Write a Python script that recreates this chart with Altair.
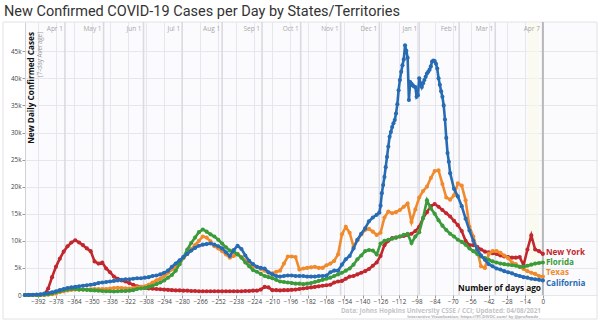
import altair as alt
import pandas as pd

title_text = "New Confirmed COVID-19 Cases per Day by States/Territories"

# common day grid (days ago), values in thousands of cases (7-day average)
grid_days = list(range(-402, 1, 3))

ny_vals = [
    0, 0, 0, 0, 0.02, 0.1, 1.2, 3.3, 5.2, 6.7,
    8.0, 9.0, 9.7, 10.1, 9.7, 9.2, 8.6, 8.1, 6.2, 5.8,
    6.0, 4.9, 4.2, 3.4, 3.0, 2.7, 2.5, 2.2, 1.9, 1.6,
    1.5, 1.3, 1.2, 1.15, 1.1, 1.05, 1.0, 0.95, 0.9, 0.85,
    0.85, 0.8, 0.8, 0.75, 0.75, 0.7, 0.7, 0.7, 0.7, 0.7,
    0.7, 0.7, 0.7, 0.7, 0.7, 0.7, 0.7, 0.75, 0.75, 0.8,
    0.8, 1.0, 1.5, 1.4, 0.9, 0.9, 0.85, 0.9, 0.9, 0.95,
    1.0, 1.1, 1.2, 1.3, 1.4, 1.5, 1.6, 1.7, 1.8, 1.9,
    2.3, 2.5, 2.6, 3.0, 3.4, 3.5, 3.8, 4.1, 4.4, 4.8,
    5.4, 6.0, 7.2, 9.2, 10.0, 10.5, 10.6, 10.8, 10.9, 11.1,
    11.3, 11.8, 12.6, 14.2, 15.3, 16.4, 16.8, 16.3, 15.7, 15.1,
    14.5, 13.7, 12.9, 11.8, 10.0, 9.2, 9.2, 8.9, 8.4, 8.0,
    7.9, 7.7, 7.6, 7.3, 7.1, 7.0, 6.9, 6.9, 7.0, 5.5,
    8.4, 11.0, 8.4, 8.1, 7.6,
]

tx_vals = [
    0, 0, 0, 0, 0, 0.02, 0.05, 0.15, 0.3, 0.5,
    0.7, 0.85, 0.95, 1.0, 1.0, 1.0, 1.0, 1.05, 1.1, 1.1,
    1.1, 1.1, 1.2, 1.3, 1.35, 1.3, 1.25, 1.2, 1.3, 1.4,
    1.5, 1.6, 1.9, 2.3, 2.7, 3.0, 3.5, 4.1, 4.7, 5.3,
    6.0, 6.8, 7.6, 8.5, 9.2, 10.0, 10.8, 10.6, 9.9, 9.0,
    8.6, 8.1, 7.5, 6.9, 7.2, 7.6, 7.0, 6.4, 5.6, 5.3,
    5.2, 4.8, 4.5, 4.1, 4.0, 4.3, 4.5, 5.8, 7.1, 7.1,
    7.0, 4.7, 4.9, 5.0, 5.1, 5.2, 5.0, 5.0, 5.5, 5.8,
    6.3, 7.5, 11.2, 12.6, 11.5, 8.9, 10.1, 11.2, 12.0, 12.2,
    11.7, 11.1, 11.5, 14.3, 15.4, 15.1, 15.3, 15.7, 16.3, 16.9,
    13.5, 15.8, 18.0, 19.2, 20.0, 21.6, 22.9, 23.0, 20.5, 18.0,
    17.6, 18.4, 20.6, 20.2, 17.5, 12.6, 10.8, 8.2, 5.3, 5.0,
    7.6, 8.1, 8.1, 7.8, 7.3, 6.8, 6.0, 5.7, 5.2, 4.8,
    4.4, 4.1, 3.9, 3.5, 3.4,
]

fl_vals = [
    0, 0, 0, 0, 0.02, 0.05, 0.15, 0.3, 0.5, 0.7,
    0.9, 1.0, 1.1, 1.1, 1.0, 1.0, 0.95, 0.9, 0.85, 0.8,
    0.75, 0.7, 0.7, 0.65, 0.7, 0.75, 0.75, 0.8, 0.9, 1.1,
    1.2, 1.3, 1.5, 1.7, 2.0, 2.3, 2.7, 3.2, 3.7, 4.5,
    5.7, 7.0, 8.4, 9.6, 10.6, 11.6, 12.1, 11.7, 11.2, 10.8,
    10.2, 9.5, 8.8, 8.2, 8.0, 7.5, 6.9, 6.0, 5.3, 4.6,
    4.3, 3.9, 3.5, 3.3, 3.1, 2.8, 2.5, 2.4, 2.3, 2.2,
    2.1, 2.1, 2.0, 2.1, 2.2, 2.4, 2.6, 2.8, 3.0, 3.2,
    3.5, 3.8, 4.1, 4.5, 4.9, 5.6, 6.6, 7.3, 8.1, 8.3,
    8.2, 7.5, 9.5, 10.0, 10.2, 10.4, 10.6, 10.8, 11.1, 11.3,
    9.6, 10.8, 11.6, 14.2, 17.5, 16.0, 15.0, 13.8, 12.8, 12.0,
    11.3, 10.8, 10.2, 9.8, 9.3, 8.6, 8.1, 7.6, 7.1, 6.8,
    6.5, 6.2, 6.0, 5.8, 5.7, 5.6, 5.5, 5.4, 5.2, 5.2,
    5.4, 5.6, 5.8, 5.9, 6.0,
]

# California: grid days up to -129, daily around the winter peak, grid again from -69
ca_days = ([d for d in grid_days if d <= -129] + list(range(-127, -71))
           + [d for d in grid_days if d >= -69])
ca_vals = [
    0, 0.02, 0.05, 0.1, 0.15, 0.25, 0.35, 0.5, 0.7, 0.9,
    1.1, 1.3, 1.4, 1.5, 1.6, 1.7, 1.8, 1.9, 2.0, 2.2,
    2.3, 2.4, 2.5, 2.6, 2.7, 2.8, 2.9, 2.9, 3.0, 3.1,
    3.1, 3.2, 3.3, 3.5, 3.6, 3.8, 4.1, 4.5, 5.2, 5.8,
    6.4, 7.0, 7.6, 8.2, 8.7, 9.1, 9.3, 9.4, 9.5, 9.3,
    9.0, 8.6, 7.9, 7.2, 8.3, 9.1, 8.5, 7.3, 6.3, 5.7,
    5.2, 5.0, 4.9, 4.2, 3.8, 3.5, 3.4, 3.5, 3.6, 3.6,
    3.5, 3.5, 3.5, 3.4, 3.4, 3.4, 3.5, 3.5, 3.6, 4.2,
    4.5, 4.5, 5.6, 6.6, 7.2, 8.6, 10.2, 11.3, 12.3, 13.6,
    14.3, 14.8,
    15.2, 16.5, 18.8, 20.3, 21.8, 23.6, 25.5, 27.4, 29.2, 30.1,
    31.0, 31.7, 32.3, 33.5, 35.2, 37.8, 39.7, 41.2, 42.4, 43.5,
    46.1, 45.1, 43.8, 36.0, 39.3, 39.0, 38.7, 38.5, 38.4, 36.6,
    36.9, 40.0, 39.1, 38.4, 39.1, 39.7, 40.3, 40.9, 41.2, 41.6,
    42.2, 43.1, 43.3, 43.2, 42.7, 41.8, 40.0, 38.8, 37.6, 36.6,
    35.0, 32.4, 29.0, 26.2, 24.6, 22.5,
    19.6, 18.2, 16.4, 14.1, 11.9, 10.0, 8.4, 7.3, 6.5, 5.7,
    5.3, 4.9, 4.7, 4.4, 4.2, 4.0, 3.7, 3.5, 3.3, 3.2,
    3.0, 2.9, 2.8, 2.7,
]

assert len(ny_vals) == len(grid_days)
assert len(tx_vals) == len(grid_days)
assert len(fl_vals) == len(grid_days)
assert len(ca_vals) == len(ca_days)

state_names = ["New York", "Texas", "Florida", "California"]
state_colors = ["#c1272d", "#f08a2c", "#3b9b3a", "#276bb3"]
state_days = [grid_days, grid_days, grid_days, ca_days]
state_vals = [ny_vals, tx_vals, fl_vals, ca_vals]
label_dy = [-1, -3.5, 0.5, 3.8]

x_ticks = list(range(-392, 1, 14))
y_ticks = list(range(0, 46, 5))
month_days = [-371, -341, -310, -280, -249, -218, -188, -157, -127, -96, -65, -37]
month_labels = ["Apr 1", "May 1", "Jun 1", "Jul 1", "Aug 1", "Sep 1", "Oct 1",
                "Nov 1", "Dec 1", "Jan 1", "Feb 1", "Mar 1"]
today_day = 0
today_label = "Apr 7"

FONT = "Open Sans"
xs = alt.Scale(domain=[-402, 42], nice=False, zero=False)
ys = alt.Scale(domain=[0, 50.4], nice=False, zero=True)

xaxis = alt.Axis(values=x_ticks, title=None, grid=True, gridColor="#e6e6ee", gridWidth=1,
                 domain=False, ticks=True, tickSize=3, tickColor="#999",
                 labelFontSize=6.3, labelColor="#444", labelFont=FONT, labelPadding=0.5,
                 labelFlush=False)
yaxis = alt.Axis(values=y_ticks, title=None, grid=True, gridColor="#e6e6ee", gridWidth=1,
                 domain=True, domainColor="#d0d0d6", ticks=True, tickSize=3, tickColor="#999",
                 labelFontSize=6.3, labelColor="#444", labelFont=FONT, labelPadding=1,
                 labelExpr="datum.value == 0 ? '0' : datum.value + 'k'")

one = pd.DataFrame({"k": [0]})

frame = alt.Chart(one).mark_rect(fillOpacity=0, stroke="#e2e2e8", strokeWidth=1).encode(
    x=alt.value(-22), x2=alt.value(572), y=alt.value(0), y2=alt.value(297))

months_df = pd.DataFrame({"day": month_days, "label": month_labels})
month_rules = alt.Chart(months_df).mark_rule(color="#dadae0", strokeWidth=1.6).encode(
    x=alt.X("day:Q", scale=xs, axis=xaxis))
month_text = alt.Chart(months_df).mark_text(
    align="right", baseline="middle", dx=-2, fontSize=6.5, font=FONT, color="#a8a8a8"
).encode(x=alt.X("day:Q", scale=xs, axis=xaxis), y=alt.value(7), text="label:N")

today_df = pd.DataFrame({"day": [today_day], "label": [today_label], "a": [-12], "b": [-3]})
band = alt.Chart(today_df).mark_rect(color="#fbfae6", opacity=0.55).encode(
    x=alt.X("a:Q", scale=xs, axis=xaxis), x2="b:Q")
today_rule = alt.Chart(today_df).mark_rule(color="#b8b8b8", strokeWidth=2).encode(
    x=alt.X("day:Q", scale=xs, axis=xaxis))
today_text = alt.Chart(today_df).mark_text(
    align="right", baseline="middle", dx=-3, fontSize=6.5, font=FONT, color="#a8a8a8"
).encode(x=alt.X("day:Q", scale=xs, axis=xaxis), y=alt.value(7), text="label:N")

ytitle = alt.Chart(one).mark_text(
    text="New Daily Confirmed Cases", angle=270, align="right", baseline="middle",
    font=FONT, fontWeight="bold", fontSize=8.2, color="#111"
).encode(x=alt.value(7), y=alt.value(10))
ysub = alt.Chart(one).mark_text(
    text="(7-day Average)", angle=270, align="right", baseline="middle",
    font=FONT, fontSize=6.3, color="#9a9a9a"
).encode(x=alt.value(15), y=alt.value(10))

layers = [frame, month_rules, band, today_rule, month_text, today_text, ytitle, ysub]

for name, col, dys, vals, ddy in zip(state_names, state_colors, state_days, state_vals, label_dy):
    df = pd.DataFrame({"day": dys, "cases": vals})
    enc = dict(x=alt.X("day:Q", scale=xs, axis=xaxis),
               y=alt.Y("cases:Q", scale=ys, axis=yaxis))
    layers.append(alt.Chart(df).mark_line(color=col, strokeWidth=2.6).encode(**enc))
    layers.append(alt.Chart(df).mark_circle(color=col, size=17, opacity=1).encode(**enc))

for name, col, dys, vals, ddy in zip(state_names, state_colors, state_days, state_vals, label_dy):
    ldf = pd.DataFrame({"day": [dys[-1]], "cases": [vals[-1]], "name": [name]})
    layers.append(alt.Chart(ldf).mark_text(
        align="left", baseline="middle", dx=3, dy=ddy, font=FONT, fontWeight="bold",
        fontSize=8.1, color=col
    ).encode(x=alt.X("day:Q", scale=xs, axis=xaxis), y=alt.Y("cases:Q", scale=ys, axis=yaxis),
             text="name:N"))

days_ago = alt.Chart(one).mark_text(
    text="Number of days ago", align="right", baseline="middle", font=FONT,
    fontWeight="bold", fontSize=8.3, color="#111"
).encode(x=alt.value(516), y=alt.value(267))

credit1 = alt.Chart(one).mark_text(
    text="Data: Johns Hopkins University CSSE / CCI; Updated: 04/08/2021", align="right",
    baseline="middle", font=FONT, fontWeight="bold", fontSize=6.4, color="#c4c4c8"
).encode(x=alt.value(516), y=alt.value(288.5))
credit2 = alt.Chart(one).mark_text(
    text="Interactive Visualization: https://91-DIVOC.com/ by @profwade_", align="right",
    baseline="middle", font=FONT, fontWeight="bold", fontSize=4.2, color="#b0b0b4"
).encode(x=alt.value(515), y=alt.value(295))

title = alt.Chart(one).mark_text(
    text=title_text, align="left", baseline="alphabetic", font="Roboto",
    fontSize=14.5, color="#333333"
).encode(x=alt.value(-21), y=alt.value(-6))

layers += [days_ago, credit1, credit2, title]

chart = alt.layer(*layers).properties(
    width=572, height=273,
    padding={"left": 25, "top": 22, "right": 3, "bottom": 28},
    autosize=alt.AutoSizeParams(type="none"),
    background="white",
).configure_view(fill="#fbfbfd", stroke=None)

chart.save("out.html", embed_options={"renderer": "svg", "actions": False})
